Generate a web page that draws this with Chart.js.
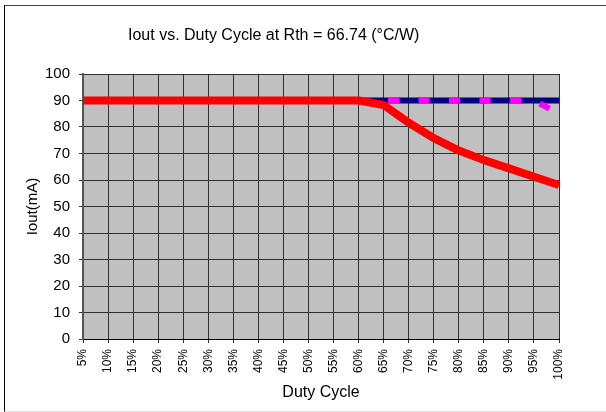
<!DOCTYPE html>
<html>
<head>
<meta charset="utf-8">
<script src="https://cdn.jsdelivr.net/npm/chart.js@4/dist/chart.umd.min.js"></script>
<style>
  html, body { margin: 0; padding: 0; background: #fff; }
  #wrap { position: relative; width: 606px; height: 412px; overflow: hidden; }
  #frame { position: absolute; left: 4px; top: 5px; width: 610px; height: 405px;
           border-top: 1px solid #404040; border-left: 1px solid #000; border-bottom: 1px solid #e4e4e4; }
  canvas { position: absolute; left: 0; top: 0; }
</style>
</head>
<body>
<div id="wrap">
  <div id="frame"></div>
  <canvas id="c" width="606" height="412"></canvas>
</div>
<script>
const chartTitle = "Iout vs. Duty Cycle at Rth = 66.74 (°C/W)";
const xTitle = "Duty Cycle";
const yTitle = "Iout(mA)";
const dutyCycles = ["5%","10%","15%","20%","25%","30%","35%","40%","45%","50%","55%","60%","65%","70%","75%","80%","85%","90%","95%","100%"];
const ioutActual = [90,90,90,90,90,90,90,90,90,90,90,90,88.3,81.6,75.8,71.1,67.5,64.4,61.2,58.1];
const ioutLimitDashed = [90,90,90,90,90,90,90,90,90,90,90,90,90,90,90,90,90,90,90,85];
const ioutTarget = [90,90,90,90,90,90,90,90,90,90,90,90,90,90,90,90,90,90,90,90];

const FONT = '"Liberation Sans", Arial, sans-serif';

const plotBg = {
  id: 'plotBg',
  beforeDraw(chart) {
    const {ctx, chartArea: a} = chart;
    ctx.save();
    ctx.fillStyle = '#C0C0C0';
    ctx.fillRect(a.left, a.top, a.right - a.left, a.bottom - a.top);
    ctx.restore();
  },
  afterDraw(chart) {
    const {ctx} = chart;
    ctx.save();
    ctx.font = '16px ' + FONT;
    ctx.fillStyle = '#000';
    ctx.textBaseline = 'middle';
    ctx.textAlign = 'left';
    ctx.fillText(chartTitle, 128, 36);
    ctx.restore();
  }
};

new Chart(document.getElementById('c'), {
  type: 'line',
  data: {
    labels: dutyCycles,
    datasets: [
      { label: 'Iout', data: ioutActual, borderColor: '#FF0000', borderWidth: 8,
        pointRadius: 0, tension: 0, borderJoinStyle: 'round', order: 1 },
      { label: 'Limit', data: ioutLimitDashed, borderColor: '#FF00FF', borderWidth: 6,
        borderDash: [11, 19.5], pointRadius: 0, tension: 0, order: 2 },
      { label: 'Target', data: ioutTarget, borderColor: '#000080', borderWidth: 6,
        pointRadius: 0, tension: 0, order: 3 }
    ]
  },
  options: {
    responsive: false,
    animation: false,
    events: [],
    layout: { padding: { left: 0, right: 47, top: 74, bottom: 0 } },
    plugins: { legend: { display: false }, title: { display: false }, tooltip: { enabled: false } },
    scales: {
      x: {
        type: 'category',
        offset: false,
        afterFit(s) { s.height = 73; },
        grid: { color: '#303030', lineWidth: 1, drawTicks: true, tickLength: 4, tickColor: '#303030' },
        border: { color: '#000', width: 1 },
        ticks: { autoSkip: false, minRotation: 90, maxRotation: 90, padding: 6,
                 color: '#000', font: { family: FONT, size: 12 } },
        title: { display: true, text: xTitle, color: '#000', font: { family: FONT, size: 16 },
                 padding: { top: 0, bottom: 10 } }
      },
      y: {
        min: 0, max: 100,
        afterFit(s) { s.width = 83; },
        grid: { color: '#303030', lineWidth: 1, drawTicks: true, tickLength: 4, tickColor: '#303030' },
        border: { color: '#555', width: 2 },
        ticks: { stepSize: 10, padding: 9, color: '#000', font: { family: FONT, size: 15 } },
        title: { display: true, text: yTitle, color: '#000', font: { family: FONT, size: 15 },
                 padding: { top: 24, bottom: 0 } }
      }
    }
  },
  plugins: [plotBg]
});
</script>
</body>
</html>
